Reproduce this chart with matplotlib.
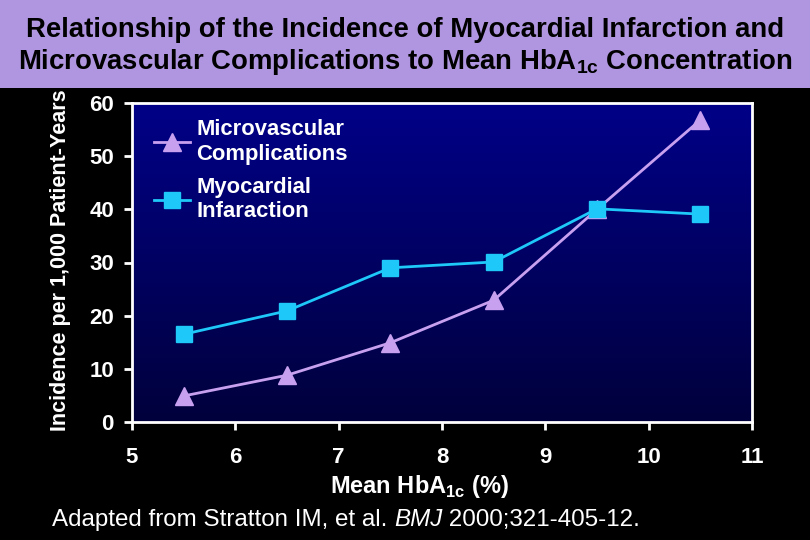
import numpy as np
import matplotlib.pyplot as plt
from matplotlib.colors import LinearSegmentedColormap

# data
hba1c = [5.5, 6.5, 7.5, 8.5, 9.5, 10.5]
micro = [4.9, 8.8, 14.9, 22.9, 40.0, 56.8]
myo = [16.5, 20.9, 29.0, 30.1, 40.1, 39.1]
xticks = [5, 6, 7, 8, 9, 10, 11]
yticks = [0, 10, 20, 30, 40, 50, 60]

plt.rcParams['font.family'] = ['Liberation Sans', 'DejaVu Sans']
plt.rcParams['mathtext.fontset'] = 'custom'
plt.rcParams['mathtext.rm'] = 'Liberation Sans'
plt.rcParams['mathtext.bf'] = 'Liberation Sans:bold'

fig = plt.figure(figsize=(8.1, 5.4), dpi=100, facecolor='black')

# title band
band = fig.add_axes([0, 1 - 88 / 540, 1, 88 / 540])
band.set_facecolor('#b096e0')
band.set_xticks([])
band.set_yticks([])
for s in band.spines.values():
    s.set_visible(False)
fig.text(0.5, 1 - 30 / 540, 'Relationship of the Incidence of Myocardial Infarction and',
         ha='center', va='center', fontsize=19.8, fontweight='bold', color='black')
fig.text(0.5, 1 - 62 / 540, r'Microvascular Complications to Mean HbA$_{\mathbf{1c}}$ Concentration',
         ha='center', va='center', fontsize=19.8, fontweight='bold', color='black')

left, right, top, bottom = 132, 752, 103, 422
ax = fig.add_axes([left / 810, 1 - bottom / 540, (right - left) / 810, (bottom - top) / 540])
ax.set_facecolor('black')

# gradient background
grad = np.linspace(0, 1, 256).reshape(-1, 1)
cmap = LinearSegmentedColormap.from_list('bg', ['#00003c', '#000088'])
ax.imshow(grad, extent=[5, 11, 0, 60], origin='lower', aspect='auto', cmap=cmap, zorder=0)

ax.plot(hba1c, micro, color='#c8a0f0', lw=2, marker='^', ms=13, mec='#c8a0f0',
        label='Microvascular\nComplications', zorder=3)
ax.plot(hba1c, myo, color='#1ec8f8', lw=2, marker='s', ms=11, mec='#1ec8f8',
        label='Myocardial\nInfaraction', zorder=3)

ax.set_xlim(5, 11)
ax.set_ylim(0, 60)
ax.set_xticks(xticks)
ax.set_yticks(yticks)
for s in ax.spines.values():
    s.set_color('white')
    s.set_linewidth(2)
ax.tick_params(colors='white', width=2, length=6, labelsize=16, direction='out')
ax.tick_params(axis='x', pad=12)
ax.tick_params(axis='y', pad=7)
for lab in ax.get_xticklabels() + ax.get_yticklabels():
    lab.set_fontweight('bold')

ax.set_ylabel('Incidence per 1,000 Patient-Years', color='white', fontsize=15.5,
              fontweight='bold')
ax.yaxis.set_label_coords(-0.099, 0.507)

leg = ax.legend(loc='upper left', frameon=False, handlelength=1.6, handletextpad=0.3,
                borderaxespad=0.2, labelspacing=0.55,
                prop={'weight': 'bold', 'size': 15.8}, bbox_to_anchor=(0.015, 0.99))
for t in leg.get_texts():
    t.set_color('white')

fig.text(420 / 810, 1 - 487 / 540, r'Mean HbA$_{\mathbf{1c}}$ (%)', ha='center', va='center',
         fontsize=17, fontweight='bold', color='white')
t1 = fig.text(52 / 810, 1 - 520 / 540, 'Adapted from Stratton IM, et al. ', ha='left',
              va='center', fontsize=17.4, color='white')
fig.canvas.draw()
x1 = t1.get_window_extent().x1 / 810
t2 = fig.text(x1, 1 - 520 / 540, 'BMJ', ha='left', va='center', fontsize=17.4,
              style='italic', color='white')
x2 = t2.get_window_extent().x1 / 810
fig.text(x2, 1 - 520 / 540, ' 2000;321-405-12.', ha='left', va='center',
         fontsize=17.4, color='white')

fig.savefig('out.png', dpi=100, facecolor='black')
